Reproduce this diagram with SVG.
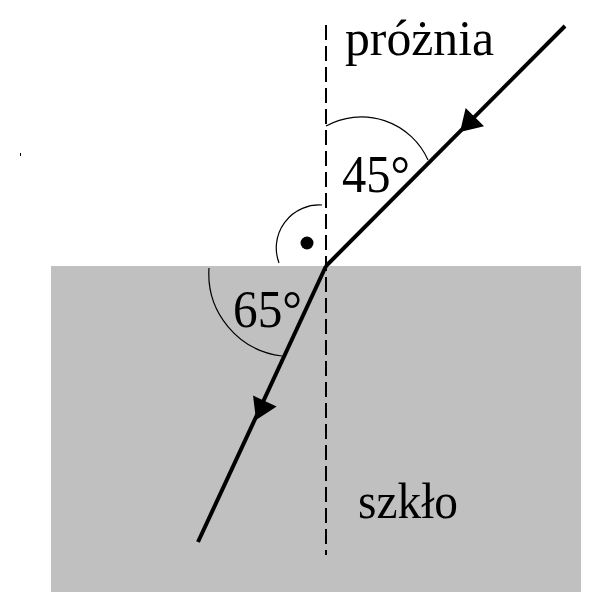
<svg xmlns="http://www.w3.org/2000/svg" width="601" height="612" viewBox="0 0 601 612">
<style>
.lbl{font-family:"Liberation Serif","Times New Roman",serif;fill:#000}
.ray{stroke:#000;stroke-width:4;fill:none;stroke-linecap:butt}
.arc{stroke:#000;stroke-width:1.2;fill:none}
.normal{stroke:#000;stroke-width:2;stroke-dasharray:15 6;fill:none}
</style>
<defs>
<path id="ah" d="M0,0 L-21,-13 L-21,13 Z" fill="#000"/>
</defs>
<rect x="0" y="0" width="601" height="612" fill="#fff"/>
<g id="glass">
<rect x="51" y="266" width="530" height="326" fill="#c0c0c0"/>
</g>
<rect x="20" y="153" width="1" height="3" fill="#000"/>
<g id="normal">
<line class="normal" x1="326" y1="25" x2="326" y2="555"/>
</g>
<g id="angles">
<path class="arc" d="M326,126 A73,73 0 0 1 428,160"/>
<path class="arc" d="M322,205 A43,43 0 0 0 279,263"/>
<path class="arc" d="M209,268 A83,83 0 0 0 282,356"/>
<circle cx="307" cy="243" r="6.5" fill="#000"/>
</g>
<g id="connectors">
<line class="ray" x1="565" y1="26" x2="326" y2="266"/>
<line class="ray" x1="326" y1="266" x2="198" y2="542"/>
<use href="#ah" transform="translate(460,132) rotate(135)"/>
<use href="#ah" transform="translate(256,420) rotate(114.9)"/>
</g>
<g id="labels">
<text class="lbl" x="345" y="55" font-size="50" textLength="149" lengthAdjust="spacingAndGlyphs">próżnia</text>
<text class="lbl" x="342" y="192" font-size="53" textLength="68" lengthAdjust="spacingAndGlyphs">45°</text>
<text class="lbl" x="233" y="327" font-size="53" textLength="69" lengthAdjust="spacingAndGlyphs">65°</text>
<text class="lbl" x="358" y="518" font-size="50" textLength="100" lengthAdjust="spacingAndGlyphs">szkło</text>
</g>
</svg>
